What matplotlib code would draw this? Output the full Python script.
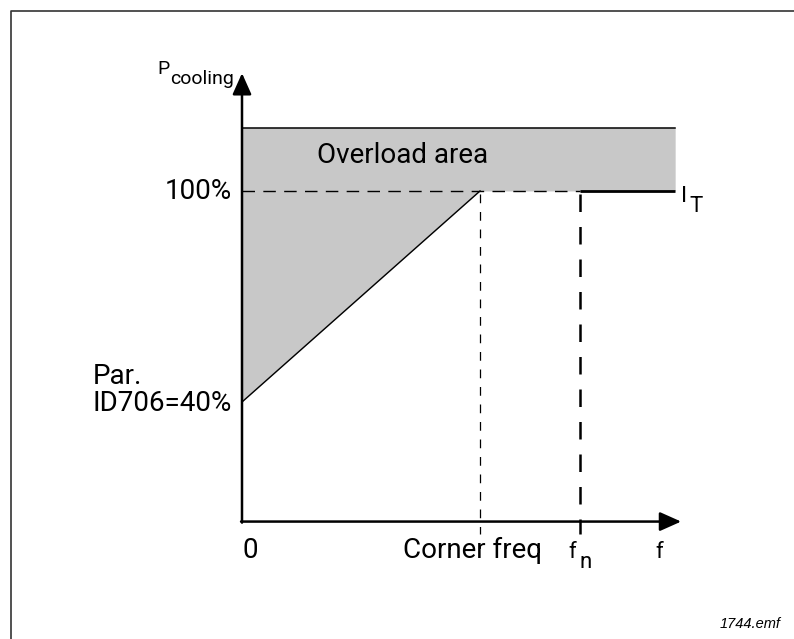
import matplotlib
matplotlib.use("Agg")
import matplotlib.pyplot as plt
from matplotlib.lines import Line2D

plt.rcParams['font.family'] = ['Roboto', 'DejaVu Sans']

# chart values (schematic units: f relative to corner freq, P in %)
f_corner = 1.0
f_n = 1.42
f_end = 1.82
p_min = 40      # Par. ID706
p_nom = 100
p_top = 118
p_base = 6      # where the f axis is drawn

curve_f = [0, f_corner, f_end]
curve_p = [p_min, p_nom, p_nom]
top_p = [p_top, p_top, p_top]

fig = plt.figure(figsize=(7.94, 6.39), dpi=100)
ax = fig.add_axes([0, 0, 1, 1])
ax.set_xlim(-1.0168, 2.3193)
ax.set_ylim(-27.39, 154.3)
ax.axis('off')

# frame around the drawing
W, H = 794, 639
fig.add_artist(Line2D([11 / W, 11 / W, 1.0], [0.0, 1 - 11 / H, 1 - 11 / H],
                      transform=fig.transFigure, color='#333333', lw=1.2))

# overload area
ax.fill_between(curve_f, curve_p, top_p, color='#c8c8c8', lw=0)
ax.plot([0, f_end], [p_top, p_top], color='k', lw=1.1)

# cooling curve
ax.plot(curve_f[:2], curve_p[:2], color='k', lw=1.0)
ax.plot([f_n, f_end], [p_nom, p_nom], color='k', lw=2.0, solid_capstyle='butt')

# dashed helper lines
ax.plot([0, f_n], [p_nom, p_nom], color='k', lw=1.0, dashes=(9, 6))
ax.plot([f_corner, f_corner], [p_nom - 1, p_base - 3.5], color='k', lw=0.9, dashes=(7, 7))
ax.plot([f_n, f_n], [p_nom - 1, p_base - 3.5], color='k', lw=1.8, dashes=(7, 6))

# axes with arrows
arrow = dict(arrowstyle='-|>,head_length=1.3,head_width=0.58', color='k',
             lw=1.8, mutation_scale=10, shrinkA=0, shrinkB=0)
ax.annotate('', xy=(0, 133.5), xytext=(0, p_base - 0.3), arrowprops=arrow)
ax.annotate('', xy=(1.845, p_base), xytext=(-0.004, p_base), arrowprops=arrow)

# labels
fs = 20
ax.text(-0.357, 133.2, 'P', fontsize=14, ha='left', va='baseline')
ax.text(-0.303, 130.3, 'cooling', fontsize=14, ha='left', va='baseline')
ax.text(-0.042, 97.8, '100%', fontsize=fs, ha='right', va='baseline')
ax.text(0.315, 108.0, 'Overload area', fontsize=fs, ha='left', va='baseline')
ax.text(-0.042, 37.5, 'Par.\nID706=40%', fontsize=fs, ha='right', va='baseline',
        multialignment='left', linespacing=1.0)
ax.text(1.845, 96.8, 'I', fontsize=16, ha='left', va='baseline')
ax.text(1.88, 94.0, 'T', fontsize=16, ha='left', va='baseline')
ax.text(0.004, -4.3, '0', fontsize=fs, ha='left', va='baseline')
ax.text(f_corner - 0.03, -4.3, 'Corner freq', fontsize=fs, ha='center', va='baseline')
ax.text(f_n - 0.05, -4.3, 'f', fontsize=16, ha='left', va='baseline')
ax.text(f_n + 0.0, -7.3, 'n', fontsize=16, ha='left', va='baseline')
ax.text(1.735, -4.3, 'f', fontsize=16, ha='left', va='baseline')

fig.text(0.983, 1 - 628 / H, '1744.emf', fontsize=10.5, style='italic',
         family='Liberation Sans', ha='right', va='baseline')

fig.savefig('out.png', dpi=100)
